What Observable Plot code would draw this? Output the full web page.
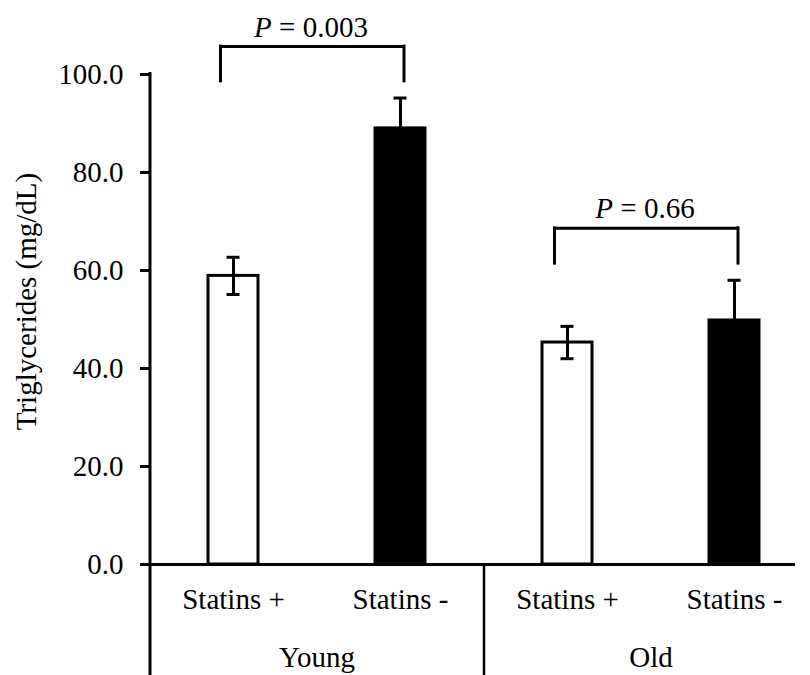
<!DOCTYPE html>
<html>
<head>
<meta charset="utf-8">
<script src="https://cdn.jsdelivr.net/npm/d3@7"></script>
<script src="https://cdn.jsdelivr.net/npm/@observablehq/plot@0.6"></script>
<style>
  html, body { margin: 0; padding: 0; background: #fff; }
</style>
</head>
<body>
<div id="chart"></div>
<script>
// ---- data ----
const groups = ["Young", "Old"];
const statins = ["Statins +", "Statins -"];
const means = [58.9, 89.0, 45.3, 49.8];     // Young+, Young-, Old+, Old-
const errors = [3.8, 6.2, 3.3, 8.2];
const yTicks = [0, 20, 40, 60, 80, 100];
const yTitle = "Triglycerides (mg/dL)";
const pLabels = ["P = 0.003", "P = 0.66"];
const bracketTop = [105.7, 68.6];
const bracketEnd = [98.6, 61.4];

// ---- tables ----
const key = (g, s) => `${g}|${s}`;
const cats = groups.flatMap(g => statins.map(s => key(g, s)));
const rows = cats.map((c, i) => {
  const [g, s] = c.split("|");
  return {cat: c, group: g, statin: s, mean: means[i], err: errors[i]};
});
const groupRows = groups.map(g => ({group: g, first: key(g, statins[0]), base: 0}));
const brackets = groups.map((g, i) => ({
  a: key(g, statins[0]), b: key(g, statins[1]),
  top: bracketTop[i], end: bracketEnd[i], label: pLabels[i]
}));

const xRange = [150, 818];
const step = (xRange[1] - xRange[0]) / cats.length;
const serif = "Liberation Serif, Times New Roman, serif";

const plot = Plot.plot({
  width: 810,
  height: 675,
  marginLeft: 150,
  marginRight: 0,
  marginTop: 74,
  marginBottom: 111,
  style: {fontFamily: serif, fontSize: "29px", color: "black", background: "white"},
  x: {type: "band", domain: cats, range: xRange, paddingInner: 0.7, paddingOuter: 0.35, axis: null},
  y: {domain: [0, 100], axis: null},
  marks: [
    Plot.barY(rows, {filter: d => d.statin === statins[0], x: "cat", y: "mean", fill: "white", stroke: "black", strokeWidth: 3}),
    Plot.barY(rows, {filter: d => d.statin === statins[1], x: "cat", y: "mean", fill: "black", stroke: "black", strokeWidth: 3}),
    Plot.ruleX(rows, {x: "cat", y1: d => d.mean - d.err, y2: d => d.mean + d.err, strokeWidth: 3}),
    Plot.tickY(rows, {x: "cat", y: d => d.mean + d.err, strokeWidth: 3, inset: 18.5}),
    Plot.tickY(rows, {x: "cat", y: d => d.mean - d.err, strokeWidth: 3, inset: 18.5}),
    Plot.axisY({ticks: yTicks, tickFormat: d => d.toFixed(1), tickSize: 10, tickPadding: 17, strokeWidth: 3, label: null, fontFamily: serif, fontSize: 29}),
    Plot.ruleY([0], {strokeWidth: 3, insetRight: 15}),
    Plot.ruleX(groupRows.slice(0, 1), {x: "first", dx: -step / 2, strokeWidth: 3, insetTop: -2, insetBottom: -111}),
    Plot.ruleX(groupRows.slice(1), {x: "first", y1: "base", y2: "base", dx: -step / 2, strokeWidth: 2.5, insetBottom: -111}),
    Plot.text(rows, {x: "cat", text: "statin", frameAnchor: "bottom", lineAnchor: "bottom", dy: 44, fontFamily: serif, fontSize: 29}),
    Plot.text(groupRows, {x: "first", text: "group", dx: step / 2, frameAnchor: "bottom", lineAnchor: "bottom", dy: 102, fontFamily: serif, fontSize: 29}),
    Plot.text([yTitle], {text: d => d, frameAnchor: "left", textAnchor: "middle", rotate: -90, dx: -124, dy: -18, fontFamily: serif, fontSize: 29}),
    // significance brackets
    Plot.ruleY(brackets, {x1: "a", x2: "b", y: "top", insetLeft: 12, insetRight: 21, strokeWidth: 3}),
    Plot.ruleX(brackets, {x: "a", y1: "end", y2: "top", dx: -13, strokeWidth: 3, strokeLinecap: "square"}),
    Plot.ruleX(brackets, {x: "b", y1: "end", y2: "top", dx: 3.5, strokeWidth: 3, strokeLinecap: "square"}),
    Plot.text(brackets, {x: "a", y: "top", text: "label", dx: step / 2 - 6, dy: -10, lineAnchor: "bottom", fontFamily: serif, fontSize: 29})
  ]
});

// italic "P" in the p-value labels
d3.select(plot).selectAll("text").each(function() {
  const t = this.textContent;
  if (/^P = /.test(t)) {
    const sel = d3.select(this);
    sel.text(null);
    sel.append("tspan").attr("font-style", "italic").text("P");
    sel.append("tspan").text(t.slice(1));
  }
});

document.getElementById("chart").appendChild(plot);
</script>
</body>
</html>
